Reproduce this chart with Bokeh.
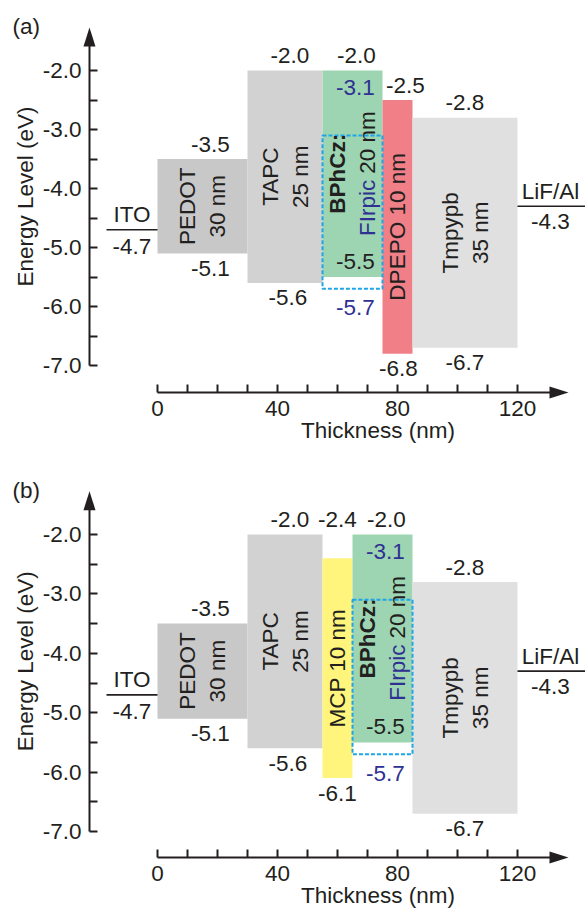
import numpy as np
from bokeh.plotting import figure
from bokeh.models import Range1d, LinearAxis, FixedTicker, PrintfTickFormatter, ColumnDataSource
from bokeh.layouts import column
from bokeh.core.properties import value
from bokeh.embed import file_html
from bokeh.resources import INLINE

# ---------------- data ----------------
y_ticks = [-2.0, -3.0, -4.0, -5.0, -6.0, -7.0]
y_minor = [-2.5, -3.5, -4.5, -5.5, -6.5]
x_ticks = [0, 40, 80, 120]
x_minor = [10, 20, 30, 50, 60, 70, 90, 100, 110]

ito_level = -4.7
lif_level = -4.3
firpic_lumo = -3.1
firpic_homo = -5.7

a_names = ["PEDOT", "TAPC", "BPhCz", "DPEPO", "Tmpypb"]
a_thick = [30, 25, 20, 10, 35]
a_lumo = [-3.5, -2.0, -2.0, -2.5, -2.8]
a_homo = [-5.1, -5.6, -5.5, -6.8, -6.7]

b_names = ["PEDOT", "TAPC", "MCP", "BPhCz", "Tmpypb"]
b_thick = [30, 25, 10, 20, 35]
b_lumo = [-3.5, -2.0, -2.4, -2.0, -2.8]
b_homo = [-5.1, -5.6, -6.1, -5.5, -6.7]

# ---------------- style ----------------
FONT = "Liberation Sans"
FS = "22.5px"
TXT = "#231f20"
BLUE = "#2e3192"
DASH = "#1ea5e6"
COLORS = {"PEDOT": "#c8c8c8", "TAPC": "#d2d2d2", "BPhCz": "#9dd5b3",
          "DPEPO": "#f17f88", "Tmpypb": "#e0e0e0", "MCP": "#fff57c"}
ONE_LINE = {"DPEPO", "MCP"}
# small horizontal nudges (px) of value labels: (top, bottom)
NUDGE = {"PEDOT": (8, 8), "TAPC": (5, 3), "BPhCz": (4, 3), "DPEPO": (8, 1),
         "Tmpypb": (0, 0), "MCP": (0, 0)}

W = 585
X0, X1 = -157 / 3.0, (585 - 157) / 3.0
Y_AX_X = -22.67
X_TIP = 137.0
Y_TIP = -1.27
HEAD_L, HEAD_HW = 19, 6


def panel(h, y0, y1, x_ax_y, tag, names, thick, lumo, homo):
    p = figure(width=W, height=h, x_range=Range1d(X0, X1), y_range=Range1d(y0, y1),
               x_axis_type=None, y_axis_type=None, toolbar_location=None,
               output_backend="svg", min_border=0)
    p.outline_line_color = None
    sx = W / (X1 - X0)
    sy = h / (y1 - y0)

    right = np.cumsum(thick).astype(float)
    left = right - np.array(thick, dtype=float)
    cx = (left + right) / 2

    # layer boxes
    p.quad(left=left, right=right, top=lumo, bottom=homo,
           fill_color=[COLORS[n] for n in names], line_color=None)

    # FIrpic dopant (dashed) in host BPhCz
    hi = names.index("BPhCz")
    p.quad(left=[left[hi]], right=[right[hi]], top=[firpic_lumo], bottom=[firpic_homo],
           fill_color=None, line_color=DASH, line_width=2, line_dash="4 2")

    # electrodes
    p.segment(x0=[-17, 120], y0=[ito_level, lif_level], x1=[0, X1], y1=[ito_level, lif_level],
              line_color=TXT, line_width=1.6)

    # axes
    ybase = Y_TIP - HEAD_L / sy
    yax = LinearAxis(ticker=FixedTicker(ticks=y_ticks, minor_ticks=y_minor),
                     formatter=PrintfTickFormatter(format="%.1f"),
                     fixed_location=Y_AX_X, bounds=(min(y_ticks), ybase + 0.02))
    xbase = X_TIP - HEAD_L / sx
    xax = LinearAxis(ticker=FixedTicker(ticks=x_ticks, minor_ticks=x_minor),
                     fixed_location=x_ax_y, bounds=(0, xbase + 0.3))
    for ax in (yax, xax):
        ax.axis_line_width = 2
        ax.axis_line_color = TXT
        ax.major_tick_in = 8
        ax.major_tick_out = 0
        ax.minor_tick_in = 8
        ax.minor_tick_out = 0
        ax.major_tick_line_width = 2
        ax.minor_tick_line_width = 2
        ax.major_tick_line_color = TXT
        ax.minor_tick_line_color = TXT
        ax.major_label_text_font = FONT
        ax.major_label_text_font_size = FS
        ax.major_label_text_color = TXT
    yax.major_label_standoff = 8
    xax.major_label_standoff = 8
    p.add_layout(yax, "left")
    p.add_layout(xax, "below")

    # arrow heads
    p.patch(x=[Y_AX_X - HEAD_HW / sx, Y_AX_X + HEAD_HW / sx, Y_AX_X],
            y=[ybase, ybase, Y_TIP], fill_color=TXT, line_color=None)
    p.patch(x=[xbase, xbase, X_TIP],
            y=[x_ax_y - HEAD_HW / sy, x_ax_y + HEAD_HW / sy, x_ax_y],
            fill_color=TXT, line_color=None)

    # value labels
    vx, vy, vt, vdx, vdy, vc = [], [], [], [], [], []
    top_row = max(lumo)
    for i, n in enumerate(names):
        tdx, bdx = NUDGE[n]
        ty = top_row if n == "MCP" else lumo[i]
        vx += [cx[i]]; vy += [ty]; vt += ["%.1f" % lumo[i]]; vdx += [tdx]; vdy += [-15]; vc += [TXT]
        if n == "BPhCz":
            vx += [cx[i], cx[i], cx[i]]
            vy += [lumo[i], homo[i], firpic_homo]
            vt += ["%.1f" % firpic_lumo, "%.1f" % homo[i], "%.1f" % firpic_homo]
            vdx += [bdx, bdx, bdx]
            vdy += [17, -16, 19]
            vc += [BLUE, TXT, BLUE]
        else:
            vx += [cx[i]]; vy += [homo[i]]; vt += ["%.1f" % homo[i]]; vdx += [bdx]; vdy += [15]; vc += [TXT]
    # electrodes
    vx += [-8.5, -8.5, 131.0, 131.0]
    vy += [ito_level, ito_level, lif_level, lif_level]
    vt += ["ITO", "%.1f" % ito_level, "LiF/Al", "%.1f" % lif_level]
    vdx += [0, 0, 0, 0]
    vdy += [-15, 17, -15, 15]
    vc += [TXT] * 4
    src = ColumnDataSource(dict(x=vx, y=vy, text=vt, dx=vdx, dy=vdy, color=vc))
    p.text(x="x", y="y", text="text", x_offset="dx", y_offset="dy", text_color="color",
           source=src, text_font=value(FONT), text_font_size=FS,
           text_align="center", text_baseline="middle")

    # layer names (rotated)
    lx, ly, lt = [], [], []
    for i, n in enumerate(names):
        if n == "BPhCz":
            continue
        sep = " " if n in ONE_LINE else "\n"
        lx.append(cx[i]); ly.append((lumo[i] + homo[i]) / 2)
        lt.append("%s%s%d nm" % (n, sep, thick[i]))
    p.text(x=lx, y=ly, text=lt, angle=np.pi / 2, text_font=value(FONT), text_font_size=FS,
           text_color=TXT, text_align="center", text_baseline="middle", text_line_height=1.2)

    # host : dopant label
    hy = (lumo[hi] + homo[hi]) / 2
    p.text(x=[cx[hi]], y=[hy], text=["BPhCz:"], angle=np.pi / 2, x_offset=-15,
           text_font=value(FONT), text_font_size=FS, text_font_style="bold",
           text_color=TXT, text_align="center", text_baseline="middle")
    p.text(x=[cx[hi]], y=[hy], text=["FIrpic"], angle=np.pi / 2, x_offset=15, y_offset=6,
           text_font=value(FONT), text_font_size=FS, text_color=BLUE,
           text_align="right", text_baseline="middle")
    p.text(x=[cx[hi]], y=[hy], text=["%d nm" % thick[hi]], angle=np.pi / 2, x_offset=15, y_offset=0,
           text_font=value(FONT), text_font_size=FS, text_color=TXT,
           text_align="left", text_baseline="middle")

    # axis titles and panel tag
    p.text(x=[Y_AX_X], y=[(min(y_ticks) + Y_TIP) / 2], text=["Energy Level (eV)"], angle=np.pi / 2,
           x_offset=-64, text_font=value(FONT), text_font_size=FS, text_color=TXT,
           text_align="center", text_baseline="middle")
    p.text(x=[(0 + X_TIP) / 2], y=[x_ax_y], text=["Thickness (nm)"], x_offset=15, y_offset=38,
           text_font=value(FONT), text_font_size=FS, text_color=TXT,
           text_align="center", text_baseline="middle")
    p.text(x=[Y_AX_X], y=[max(y_ticks)], text=[tag], x_offset=-77, y_offset=-44,
           text_font=value(FONT), text_font_size=FS, text_color=TXT,
           text_align="left", text_baseline="middle")
    return p


# panel geometry (screen px per eV ~59); panel (a) occupies 0..455, panel (b) 455..910
pa = panel(455, -2 - (455 - 70) / 59.0, -2 + 70 / 59.0, -2 - (392 - 70) / 59.0,
           "(a)", a_names, a_thick, a_lumo, a_homo)
pb = panel(455, -2 - (910 - 534) / 59.4, -2 + (534 - 455) / 59.4, -2 - (857 - 534) / 59.4,
           "(b)", b_names, b_thick, b_lumo, b_homo)

layout = column(pa, pb, spacing=0)
open("out.html", "w").write(file_html(layout, INLINE))
